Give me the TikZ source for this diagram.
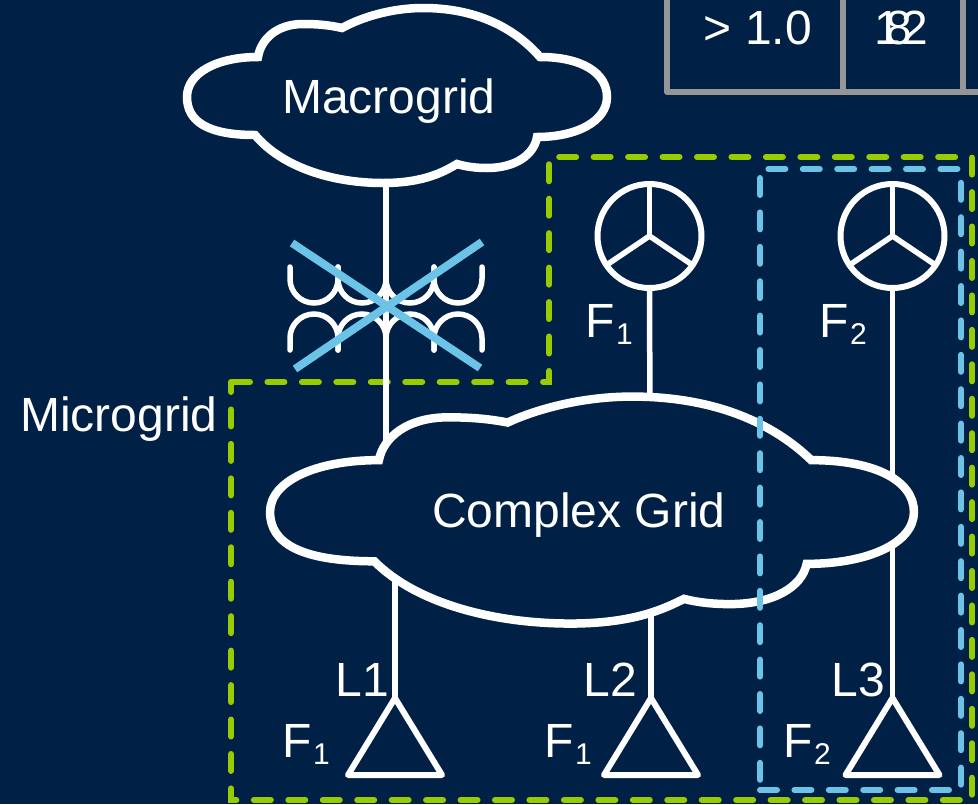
\documentclass[tikz,border=0pt]{standalone}
\usepackage{fontspec}
\setmainfont{Liberation Sans}
\usetikzlibrary{shapes.geometric}
\definecolor{gridnavy}{HTML}{002045}
\definecolor{gridgreen}{HTML}{99CC00}
\definecolor{gridblue}{HTML}{6CC3E8}
\definecolor{gridgray}{HTML}{969696}
\newcommand{\gridcloud}{(-139,-40) .. controls (-180,-40) and (-210,-24) .. (-210,0)
  .. controls (-210,24) and (-190,38) .. (-142,38)
  .. controls (-115,70) and (-65,86) .. (-14,86)
  .. controls (28,86) and (48,74) .. (60,67)
  .. controls (70,70) and (80,71) .. (90,71)
  .. controls (118,71) and (137,58) .. (140,40)
  .. controls (180,40) and (210,24) .. (210,0)
  .. controls (210,-24) and (185,-40) .. (143,-40)
  .. controls (115,-72) and (75,-89) .. (26,-89)
  .. controls (-5,-89) and (-35,-80) .. (-55,-69)
  .. controls (-68,-72) and (-80,-73) .. (-94,-73)
  .. controls (-120,-73) and (-136,-58) .. (-139,-40) -- cycle}
\newcommand{\fsub}[1]{F\hspace{1.5pt}\raisebox{-7.5pt}{\fontsize{30}{30}\selectfont #1}}
\begin{document}
\begin{tikzpicture}[
    x=1pt, y=-1pt,
    linet/.style={line width=5.5pt, draw=white},
    tablet/.style={line width=6pt, draw=gridgray, line join=round},
    cloudt/.style={line width=8.5pt, draw=white, fill=gridnavy, miter limit=6},
    greenbox/.style={line width=6pt, draw=gridgreen, line cap=round,
      dash pattern=on 17pt off 17.45pt},
    bluebox/.style={line width=6pt, draw=gridblue, line cap=round,
      dash pattern=on 17pt off 17.4pt},
    crosst/.style={line width=8pt, draw=gridblue},
    label/.style={text=white, inner sep=0pt, font=\fontsize{48}{48}\selectfont},
    gen/.style={circle, draw=white, line width=6pt, minimum size=104pt,
      inner sep=0pt, outer sep=0pt},
    load/.style={isosceles triangle, isosceles triangle stretches=true,
      shape border rotate=90, draw=white, line width=6pt, line join=round,
      minimum width=94pt, minimum height=77pt, inner sep=0pt, outer sep=0pt,
      anchor=apex}
  ]
  \useasboundingbox (0,0) rectangle (978,804);
  \clip (0,0) rectangle (978,804);
  \fill[gridnavy] (0,0) rectangle (978,804);
  \draw[tablet] (667,-5) -- (667,92) -- (983,92);
  \draw[tablet] (843,-5) -- (843,92);
  \draw[tablet] (963,-5) -- (963,92);
  \path (758,44.5) node(over) [label, anchor=base] {> 1.0}
  (901,44.5) node(cella) [label, anchor=base] {12}
  (899,44.5) node(cellb) [label, anchor=base] {8};
  \draw[greenbox, dash phase=-2pt] (231,382) -- (549,382) -- (549,157)
  -- (972,157) -- (972,800) -- (231,800) -- cycle;
  \path (649.5,236) node(gena) [gen] {}
  (892.5,236) node(genb) [gen] {}
  (395,698) node(loada) [load] {}
  (651,698) node(loadb) [load] {}
  (892.5,698) node(loadc) [load] {};
  \coordinate (macrotap) at (386,170);
  \coordinate (complextop) at (386,460);
  \coordinate (complexa) at (650,420);
  \coordinate (complexb) at (395,580);
  \coordinate (complexc) at (651,600);
  \draw[linet] (macrotap) -- (complextop);
  \draw[linet] (gena.south) -- (complexa);
  \draw[linet] (genb.south) -- (loadc.apex);
  \draw[linet] (complexb) -- (loada.apex);
  \draw[linet] (complexc) -- (loadb.apex);
  \draw[linet] (gena.center) -- (gena.90);
  \draw[linet] (gena.center) -- (gena.214);
  \draw[linet] (gena.center) -- (gena.326);
  \draw[linet] (genb.center) -- (genb.90);
  \draw[linet] (genb.center) -- (genb.214);
  \draw[linet] (genb.center) -- (genb.326);
  \foreach \xa/\ya in {290/267, 338/267, 386/279, 434/267} {
    \draw[linet, line cap=round] (\xa,\ya) -- (\xa,279)
    arc[start angle=180, end angle=360, radius=24pt] -- (\xa+48,267);
    \draw[linet, line cap=round] (\xa,350) -- (\xa,338)
    arc[start angle=180, end angle=0, radius=24pt] -- (\xa+48,350);
  }
  \draw[cloudt, shift={(397,97)}] \gridcloud;
  \draw[cloudt, shift={(592,512)}, xscale=1.533, yscale=1.297] \gridcloud;
  \path (389,113) node(macrogrid) [label, anchor=base] {Macrogrid}
  (579,527.5) node(complexgrid) [label, anchor=base] {Complex Grid}
  (119,431) node(microgrid) [label, anchor=base] {Microgrid}
  (585,337) node(fa) [label, anchor=base west] {\fsub{1}}
  (819,337) node(fb) [label, anchor=base west] {\fsub{2}}
  (335.5,696) node(la) [label, anchor=base west] {L1}
  (583.5,696) node(lb) [label, anchor=base west] {L2}
  (831.5,696) node(lc) [label, anchor=base west] {L3}
  (282,757) node(fc) [label, anchor=base west] {\fsub{1}}
  (544,757) node(fd) [label, anchor=base west] {\fsub{1}}
  (783,757) node(fe) [label, anchor=base west] {\fsub{2}};
  \draw[bluebox] (760,790) -- (961,790) -- (961,169) -- (760,169) -- cycle;
  \draw[crosst] (292,243) -- (480,368);
  \draw[crosst] (482,242) -- (295,369);
\end{tikzpicture}
\end{document}
